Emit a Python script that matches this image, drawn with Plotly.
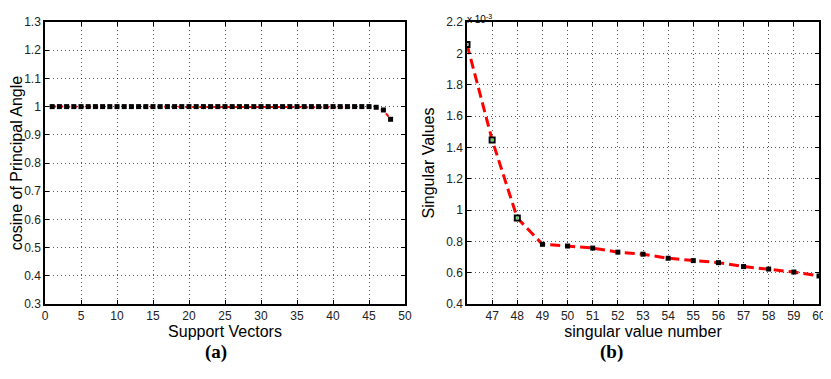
import plotly.graph_objects as go

# Panel (a)
sv_x = list(range(1, 49))
cos_vals = [1.0] * 45 + [0.9976, 0.988, 0.955]

# Panel (b)
sing_x = list(range(46, 61))
sing_vals = [2.057, 1.447, 0.949, 0.781, 0.770, 0.757, 0.731, 0.718,
             0.692, 0.677, 0.664, 0.639, 0.623, 0.604, 0.579]  # x 1e-3
hollow_n = 3

a_yticks = [0.3, 0.4, 0.5, 0.6, 0.7, 0.8, 0.9, 1.0, 1.1, 1.2, 1.3]
a_yticklabels = ["0.3", "0.4", "0.5", "0.6", "0.7", "0.8", "0.9", "1", "1.1", "1.2", "1.3"]
a_xticks = list(range(0, 51, 5))
b_yticks = [0.4, 0.6, 0.8, 1.0, 1.2, 1.4, 1.6, 1.8, 2.0, 2.2]
b_yticklabels = ["0.4", "0.6", "0.8", "1", "1.2", "1.4", "1.6", "1.8", "2", "2.2"]
b_xticks = list(range(47, 61))

# page body has an 8px margin: compensate
OX, OY = 8, 8
W, H = 831 - OX, 379 - OY
def px(x):
    return (x - OX) / W
def py(y):
    return 1 - (y - OY) / H

fig = go.Figure()

fig.add_trace(go.Scatter(x=sv_x, y=cos_vals, mode="lines", xaxis="x", yaxis="y",
                         line=dict(color="red", width=2, dash="4px,3px"), showlegend=False))
fig.add_trace(go.Scatter(x=sv_x, y=cos_vals, mode="markers", xaxis="x", yaxis="y",
                         marker=dict(symbol="square", size=5, color="black"), showlegend=False))

fig.add_trace(go.Scatter(x=sing_x, y=sing_vals, mode="lines", xaxis="x2", yaxis="y2",
                         line=dict(color="red", width=3, dash="10px,5px"), showlegend=False))
fig.add_trace(go.Scatter(x=sing_x[hollow_n:], y=sing_vals[hollow_n:], mode="markers", xaxis="x2", yaxis="y2",
                         marker=dict(symbol="square", size=5, color="black"), showlegend=False))
fig.add_trace(go.Scatter(x=sing_x[:hollow_n], y=sing_vals[:hollow_n], mode="markers", xaxis="x2", yaxis="y2",
                         marker=dict(symbol="square", size=5, color="white",
                                     line=dict(color="black", width=2)), showlegend=False))
fig.add_trace(go.Scatter(x=sing_x[:hollow_n], y=sing_vals[:hollow_n], mode="markers", xaxis="x2", yaxis="y2",
                         marker=dict(symbol="square", size=2, color="#33dd33"), showlegend=False))

tickfont = dict(family="Liberation Sans, Arial", size=12, color="#222")
titlefont = dict(family="Liberation Sans, Arial", size=16, color="black")

def ax(**kw):
    d = dict(showline=True, linecolor="black", linewidth=1.5, mirror="allticks",
             ticks="inside", ticklen=4, tickcolor="black", tickfont=tickfont,
             showgrid=True, gridcolor="rgba(0,0,0,0.65)", griddash="1px,3px", gridwidth=1,
             zeroline=False, automargin=False, ticklabeloverflow="allow")
    d.update(kw)
    return d

x1d = [px(45), px(405)]
x2d = [px(467), px(819)]
yd = [py(304), py(22)]

fig.update_layout(
    width=W, height=H, margin=dict(l=0, r=0, t=0, b=0),
    plot_bgcolor="white", paper_bgcolor="white",
    xaxis=ax(domain=x1d, range=[0, 50], tickvals=a_xticks, anchor="y",
             title=dict(text="Support Vectors", font=titlefont, standoff=4)),
    yaxis=ax(domain=yd, range=[0.3, 1.3], tickvals=a_yticks, ticktext=a_yticklabels, anchor="x",
             title=dict(text="cosine of Principal Angle", font=titlefont, standoff=8)),
    xaxis2=ax(domain=x2d, range=[46, 60], tickvals=b_xticks, anchor="y2",
              title=dict(text="singular value number", font=titlefont, standoff=4)),
    yaxis2=ax(domain=yd, range=[0.4, 2.2], tickvals=b_yticks, ticktext=b_yticklabels, anchor="x2",
              title=dict(text="Singular Values", font=titlefont, standoff=8)),
    annotations=[
        dict(text="<b>(a)</b>", x=px(203), y=py(365), xref="paper", yref="paper",
             showarrow=False, font=dict(family="Liberation Serif, Times New Roman", size=19, color="black")),
        dict(text="<b>(b)</b>", x=px(625), y=py(365), xref="paper", yref="paper",
             showarrow=False, font=dict(family="Liberation Serif, Times New Roman", size=19, color="black")),
        dict(text="x 10<sup>-3</sup>", x=px(465), y=py(11), xref="paper", yref="paper",
             xanchor="left", showarrow=False, font=dict(family="Liberation Sans, Arial", size=10, color="black")),
    ],
)

fig.write_html("out.html")
